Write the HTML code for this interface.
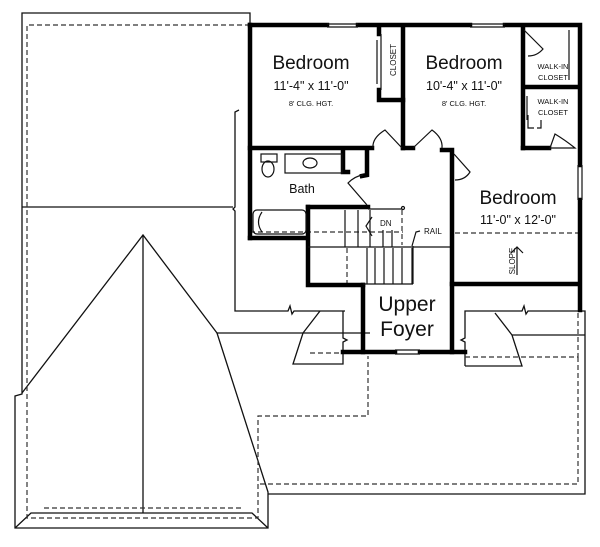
<!DOCTYPE html>
<html><head><style>
html,body{margin:0;padding:0;background:#fff;}
svg{display:block;}
text{font-family:"Liberation Sans",Arial,sans-serif;fill:#111;}
</style></head><body>
<svg width="600" height="547" viewBox="0 0 600 547" xmlns="http://www.w3.org/2000/svg">
<g fill="none" stroke="#111" stroke-width="1.3">
<!-- roof outline -->
<polyline points="250,25 250,13 22,13 22,394 15,396 15,528 268,528 268,492 217,333 370,333"/>
<line x1="22" y1="207" x2="233" y2="207"/>
<polyline points="22,393 143,235 217,333"/>
<line x1="143" y1="235" x2="143" y2="513"/>
<polyline points="15,528 31,513 252,513 268,528"/>
<!-- thin outline lines -->
<polyline points="239,110 235,112 235,207 233,209 235,211 235,311 288,311 290,306 292,314 294,311 345,311"/>
<polyline points="320,311 303,333 293,364 343,364 343,342 347,340 343,338 343,311"/>
<polyline points="465,366 465,342 461,340 465,338 465,311 522,311 524,306 526,314 528,311 585,311 585,494 268,494"/>
<polyline points="495,313 512,335 522,366 465,366"/>
<line x1="512" y1="335" x2="585" y2="335"/>
</g>
<g fill="none" stroke="#333" stroke-width="1.2" stroke-dasharray="5,3">
<polyline points="250,25 27,25 27,518 258,518 258,416 368,416 368,356"/>
<line x1="44" y1="508" x2="242" y2="508"/>
<line x1="310" y1="353" x2="343" y2="353"/>
<polyline points="465,357 578,357 578,313"/>
<polyline points="578,357 578,484 258,484"/>
<line x1="250" y1="232" x2="403" y2="232"/>
<line x1="455" y1="233" x2="578" y2="233"/>
<line x1="402" y1="210" x2="402" y2="245"/>
<line x1="347" y1="248" x2="347" y2="283"/>
</g>
<!-- thick walls -->
<g fill="none" stroke="#000" stroke-width="4.5" stroke-linecap="square">
<polyline points="250,25 327,25"/><polyline points="358,25 470,25"/><polyline points="505,25 580,25 580,165"/>
<polyline points="580,200 580,310"/>
<line x1="250" y1="25" x2="250" y2="238"/>
<polyline points="250,238 307,238"/>
<polyline points="250,148 372,148"/>
<line x1="403" y1="27" x2="403" y2="148"/>
<polyline points="403,148 413,148"/>
<polyline points="442,150 452,150 452,352"/>
<line x1="523" y1="27" x2="523" y2="148"/>
<polyline points="523,148 549,148"/>
<line x1="526" y1="87" x2="578" y2="87"/>
<polyline points="379,28 379,34"/><polyline points="379,90 379,100 403,100"/>
<polyline points="343,152 343,172 348,172"/>
<polyline points="367,152 367,175 362,176"/>
<polyline points="308,207 368,207"/>
<polyline points="308,207 308,285 363,285"/>
<line x1="363" y1="285" x2="363" y2="352"/>
<polyline points="343,352 395,352"/><polyline points="420,352 465,352"/>
<line x1="452" y1="284" x2="578" y2="284"/>
</g>
<g fill="none" stroke="#111" stroke-width="1.2">
<!-- windows -->
<line x1="327" y1="24" x2="358" y2="24"/><line x1="327" y1="27" x2="358" y2="27"/>
<line x1="470" y1="24" x2="505" y2="24"/><line x1="470" y1="27" x2="505" y2="27"/>
<line x1="578" y1="165" x2="578" y2="200"/><line x1="582" y1="165" x2="582" y2="200"/>
<line x1="395" y1="350" x2="420" y2="350"/><line x1="395" y1="354" x2="420" y2="354"/>
<!-- closet doors -->
<line x1="381" y1="34" x2="381" y2="90"/><line x1="377" y1="40" x2="377" y2="84"/>
<!-- doors -->
<path d="M402,148 L385,130 Q372,138 373,148"/>
<path d="M413,148 L432,130 Q443,138 442,148"/>
<path d="M454,154 L470,172 Q465,180 455,180"/>
<path d="M524,30 L543,49 Q537,56 528,56"/>
<path d="M550,148 L555,134 Q565,140 575,148 Z"/>
<path d="M367,205 L348,183 Q355,176 363,175"/>
<line x1="527" y1="96" x2="527" y2="120"/>
<polyline points="528,115 528,128 534,128"/><polyline points="537,128 541,128 541,120"/>
<line x1="569" y1="30" x2="569" y2="80"/>
<!-- bath fixtures -->
<rect x="261" y="154" width="16" height="8"/>
<ellipse cx="268" cy="169" rx="6" ry="8"/>
<rect x="285" y="154" width="57" height="19"/>
<ellipse cx="310" cy="163" rx="7" ry="5"/>
<rect x="253" y="210" width="53" height="24" rx="4"/>
<path d="M262,212 Q255,222 262,232"/>
<!-- stairs -->
<line x1="368" y1="209" x2="402" y2="209"/>
<circle cx="403" cy="208" r="1.5"/>
<line x1="308" y1="247" x2="450" y2="247"/>
<line x1="345" y1="210" x2="345" y2="247"/><line x1="358" y1="210" x2="358" y2="247"/>
<line x1="370" y1="210" x2="370" y2="247"/><line x1="383" y1="230" x2="383" y2="247"/>
<line x1="392" y1="230" x2="392" y2="247"/>
<line x1="367" y1="248" x2="367" y2="284"/><line x1="375" y1="248" x2="375" y2="284"/>
<line x1="384" y1="248" x2="384" y2="284"/><line x1="393" y1="248" x2="393" y2="284"/>
<line x1="402" y1="248" x2="402" y2="284"/><line x1="412" y1="248" x2="412" y2="284"/>
<line x1="363" y1="284" x2="413" y2="284"/>
<line x1="413" y1="246" x2="413" y2="284"/>
<polyline points="372,217 366,226 372,236"/>
<polyline points="412,246 416,232 420,231"/>
<!-- slope arrow -->
<line x1="517" y1="247" x2="517" y2="275"/>
<polyline points="511,253 517,247 523,253"/>
</g>
<!-- labels -->
<text x="311" y="69" font-size="19" text-anchor="middle">Bedroom</text>
<text x="311" y="90" font-size="12.5" text-anchor="middle">11'-4" x 11'-0"</text>
<text x="311" y="106" font-size="7.5" text-anchor="middle">8' CLG. HGT.</text>
<text x="464" y="69" font-size="19" text-anchor="middle">Bedroom</text>
<text x="464" y="90" font-size="12.5" text-anchor="middle">10'-4" x 11'-0"</text>
<text x="464" y="106" font-size="7.5" text-anchor="middle">8' CLG. HGT.</text>
<text x="0" y="0" font-size="8" text-anchor="middle" transform="translate(396,60) rotate(-90)">CLOSET</text>
<text x="553" y="69" font-size="7.5" text-anchor="middle">WALK-IN</text>
<text x="553" y="80" font-size="7.5" text-anchor="middle">CLOSET</text>
<text x="553" y="104" font-size="7.5" text-anchor="middle">WALK-IN</text>
<text x="553" y="115" font-size="7.5" text-anchor="middle">CLOSET</text>
<text x="302" y="193" font-size="12.5" text-anchor="middle">Bath</text>
<text x="518" y="204" font-size="19" text-anchor="middle">Bedroom</text>
<text x="518" y="224" font-size="12.5" text-anchor="middle">11'-0" x 12'-0"</text>
<text x="380" y="226" font-size="8">DN</text>
<text x="424" y="234" font-size="8">RAIL</text>
<text x="0" y="0" font-size="8" text-anchor="middle" transform="translate(515,261) rotate(-90)">SLOPE</text>
<text x="407" y="311" font-size="21" text-anchor="middle">Upper</text>
<text x="407" y="336" font-size="21" text-anchor="middle">Foyer</text>
</svg>
</body></html>
